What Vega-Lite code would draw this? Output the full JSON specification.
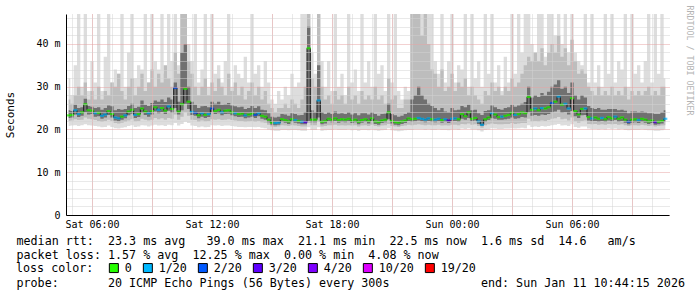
{
"$schema": "https://vega.github.io/schema/vega-lite/v6.json",
"width": 603,
"height": 201,
"autosize": {"type": "none"},
"padding": {"left": 66, "top": 14, "right": 28, "bottom": 82},
"background": "white",
"config": {"view": {"stroke": null}, "font": "DejaVu Sans Mono"},
"data": {"values": [
{"t":"2026-01-10T04:50","med":23.3,"loss":"0","lo1":20.8,"hi1":32,"lo2":22.0,"hi2":27,"lo3":22.7,"hi3":24.5},
{"t":"2026-01-10T05:00","med":23.4,"loss":"0","lo1":20.9,"hi1":28,"lo2":22.1,"hi2":26,"lo3":22.8,"hi3":24.3},
{"t":"2026-01-10T05:10","med":24.5,"loss":"1/20","lo1":21.0,"hi1":35,"lo2":22.4,"hi2":28,"lo3":23.5,"hi3":25.8},
{"t":"2026-01-10T05:20","med":23.6,"loss":"1/20","lo1":20.8,"hi1":47,"lo2":22.2,"hi2":30,"lo3":22.9,"hi3":25.0},
{"t":"2026-01-10T05:30","med":24.0,"loss":"0","lo1":21.0,"hi1":30,"lo2":22.3,"hi2":28,"lo3":23.2,"hi3":25.2},
{"t":"2026-01-10T05:40","med":25.9,"loss":"0","lo1":21.2,"hi1":47,"lo2":22.8,"hi2":31,"lo3":24.0,"hi3":27.2},
{"t":"2026-01-10T05:50","med":24.5,"loss":"0","lo1":21.0,"hi1":29,"lo2":22.5,"hi2":27,"lo3":23.5,"hi3":25.5},
{"t":"2026-01-10T06:00","med":24.4,"loss":"0","lo1":20.9,"hi1":36,"lo2":22.4,"hi2":29,"lo3":23.6,"hi3":25.3},
{"t":"2026-01-10T06:10","med":23.8,"loss":"1/20","lo1":20.8,"hi1":31,"lo2":22.2,"hi2":27,"lo3":23.0,"hi3":25.0},
{"t":"2026-01-10T06:20","med":23.9,"loss":"0","lo1":20.7,"hi1":47,"lo2":22.0,"hi2":30,"lo3":23.1,"hi3":25.2},
{"t":"2026-01-10T06:30","med":23.2,"loss":"1/20","lo1":20.5,"hi1":29,"lo2":21.8,"hi2":27,"lo3":22.5,"hi3":24.6},
{"t":"2026-01-10T06:40","med":23.5,"loss":"1/20","lo1":20.6,"hi1":37,"lo2":22.0,"hi2":29,"lo3":22.8,"hi3":25.0},
{"t":"2026-01-10T06:50","med":24.3,"loss":"0","lo1":20.9,"hi1":47,"lo2":22.3,"hi2":28,"lo3":23.4,"hi3":25.6},
{"t":"2026-01-10T07:00","med":23.6,"loss":"0","lo1":20.6,"hi1":31,"lo2":22.0,"hi2":31,"lo3":22.8,"hi3":25.4},
{"t":"2026-01-10T07:10","med":22.8,"loss":"1/20","lo1":20.3,"hi1":34,"lo2":21.5,"hi2":30,"lo3":22.1,"hi3":24.5},
{"t":"2026-01-10T07:20","med":22.6,"loss":"1/20","lo1":20.2,"hi1":33,"lo2":21.4,"hi2":33,"lo3":21.9,"hi3":24.8},
{"t":"2026-01-10T07:30","med":23.0,"loss":"0","lo1":20.4,"hi1":47,"lo2":21.6,"hi2":29,"lo3":22.3,"hi3":24.6},
{"t":"2026-01-10T07:40","med":23.3,"loss":"1/20","lo1":20.5,"hi1":30,"lo2":21.8,"hi2":27,"lo3":22.6,"hi3":24.8},
{"t":"2026-01-10T07:50","med":24.2,"loss":"0","lo1":20.8,"hi1":38,"lo2":22.1,"hi2":30,"lo3":23.3,"hi3":25.5},
{"t":"2026-01-10T08:00","med":24.6,"loss":"0","lo1":21.0,"hi1":47,"lo2":22.4,"hi2":32,"lo3":23.7,"hi3":26.0},
{"t":"2026-01-10T08:10","med":23.4,"loss":"1/20","lo1":20.6,"hi1":32,"lo2":21.9,"hi2":28,"lo3":22.7,"hi3":25.0},
{"t":"2026-01-10T08:20","med":23.6,"loss":"0","lo1":20.7,"hi1":35,"lo2":22.0,"hi2":30,"lo3":22.9,"hi3":25.3},
{"t":"2026-01-10T08:30","med":24.9,"loss":"0","lo1":21.0,"hi1":34,"lo2":22.5,"hi2":33,"lo3":23.9,"hi3":26.8},
{"t":"2026-01-10T08:40","med":24.2,"loss":"0","lo1":20.9,"hi1":47,"lo2":22.3,"hi2":29,"lo3":23.4,"hi3":25.8},
{"t":"2026-01-10T08:50","med":23.8,"loss":"1/20","lo1":20.7,"hi1":31,"lo2":22.1,"hi2":31,"lo3":23.0,"hi3":25.5},
{"t":"2026-01-10T09:00","med":24.3,"loss":"0","lo1":20.9,"hi1":47,"lo2":22.3,"hi2":34,"lo3":23.5,"hi3":26.2},
{"t":"2026-01-10T09:10","med":25.2,"loss":"0","lo1":21.1,"hi1":36,"lo2":22.7,"hi2":30,"lo3":24.2,"hi3":26.8},
{"t":"2026-01-10T09:20","med":24.6,"loss":"1/20","lo1":20.9,"hi1":34,"lo2":22.4,"hi2":33,"lo3":23.8,"hi3":26.5},
{"t":"2026-01-10T09:30","med":25.0,"loss":"0","lo1":21.0,"hi1":47,"lo2":22.6,"hi2":31,"lo3":24.1,"hi3":27.0},
{"t":"2026-01-10T09:40","med":24.4,"loss":"0","lo1":20.8,"hi1":33,"lo2":22.3,"hi2":35,"lo3":23.6,"hi3":26.4},
{"t":"2026-01-10T09:50","med":25.4,"loss":"1/20","lo1":21.1,"hi1":47,"lo2":22.7,"hi2":32,"lo3":24.4,"hi3":27.5},
{"t":"2026-01-10T10:00","med":24.8,"loss":"0","lo1":21.0,"hi1":36,"lo2":22.5,"hi2":30,"lo3":23.9,"hi3":27.0},
{"t":"2026-01-10T10:10","med":29.7,"loss":"2/20","lo1":21.5,"hi1":47,"lo2":23.5,"hi2":38,"lo3":25.0,"hi3":31.0},
{"t":"2026-01-10T10:20","med":24.2,"loss":"0","lo1":20.9,"hi1":35,"lo2":22.3,"hi2":33,"lo3":23.5,"hi3":26.5},
{"t":"2026-01-10T10:30","med":25.9,"loss":"0","lo1":21.3,"hi1":47,"lo2":23.0,"hi2":47,"lo3":24.5,"hi3":38},
{"t":"2026-01-10T10:40","med":29.5,"loss":"0","lo1":21.8,"hi1":47,"lo2":24.0,"hi2":47,"lo3":26.0,"hi3":40},
{"t":"2026-01-10T10:50","med":26.5,"loss":"0","lo1":21.5,"hi1":40,"lo2":23.2,"hi2":36,"lo3":24.8,"hi3":30},
{"t":"2026-01-10T11:00","med":24.1,"loss":"1/20","lo1":20.9,"hi1":36,"lo2":22.3,"hi2":33,"lo3":23.4,"hi3":26.5},
{"t":"2026-01-10T11:10","med":23.9,"loss":"2/20","lo1":20.8,"hi1":47,"lo2":22.2,"hi2":30,"lo3":23.2,"hi3":25.8},
{"t":"2026-01-10T11:20","med":23.3,"loss":"0","lo1":20.5,"hi1":31,"lo2":21.8,"hi2":28,"lo3":22.6,"hi3":25.0},
{"t":"2026-01-10T11:30","med":23.8,"loss":"1/20","lo1":20.7,"hi1":34,"lo2":22.1,"hi2":30,"lo3":23.0,"hi3":25.4},
{"t":"2026-01-10T11:40","med":23.4,"loss":"0","lo1":20.5,"hi1":47,"lo2":21.9,"hi2":32,"lo3":22.7,"hi3":25.5},
{"t":"2026-01-10T11:50","med":23.6,"loss":"1/20","lo1":20.6,"hi1":30,"lo2":22.0,"hi2":28,"lo3":22.9,"hi3":25.2},
{"t":"2026-01-10T12:00","med":24.9,"loss":"2/20","lo1":21.0,"hi1":47,"lo2":22.4,"hi2":31,"lo3":24.0,"hi3":26.5},
{"t":"2026-01-10T12:10","med":24.3,"loss":"0","lo1":20.9,"hi1":33,"lo2":22.3,"hi2":29,"lo3":23.6,"hi3":26.0},
{"t":"2026-01-10T12:20","med":24.6,"loss":"0","lo1":21.0,"hi1":35,"lo2":22.4,"hi2":32,"lo3":23.8,"hi3":26.5},
{"t":"2026-01-10T12:30","med":24.0,"loss":"1/20","lo1":20.8,"hi1":31,"lo2":22.2,"hi2":30,"lo3":23.3,"hi3":25.8},
{"t":"2026-01-10T12:40","med":24.4,"loss":"0","lo1":20.9,"hi1":36,"lo2":22.3,"hi2":28,"lo3":23.6,"hi3":25.9},
{"t":"2026-01-10T12:50","med":24.5,"loss":"0","lo1":20.9,"hi1":47,"lo2":22.4,"hi2":33,"lo3":23.7,"hi3":26.2},
{"t":"2026-01-10T13:00","med":24.0,"loss":"0","lo1":20.8,"hi1":30,"lo2":22.2,"hi2":29,"lo3":23.3,"hi3":25.6},
{"t":"2026-01-10T13:10","med":23.8,"loss":"1/20","lo1":20.7,"hi1":35,"lo2":22.1,"hi2":31,"lo3":23.1,"hi3":25.4},
{"t":"2026-01-10T13:20","med":23.6,"loss":"0","lo1":20.6,"hi1":33,"lo2":22.0,"hi2":28,"lo3":22.9,"hi3":25.2},
{"t":"2026-01-10T13:30","med":23.7,"loss":"0","lo1":20.6,"hi1":32,"lo2":22.0,"hi2":30,"lo3":23.0,"hi3":25.3},
{"t":"2026-01-10T13:40","med":23.3,"loss":"1/20","lo1":20.5,"hi1":37,"lo2":21.8,"hi2":27,"lo3":22.6,"hi3":24.8},
{"t":"2026-01-10T13:50","med":23.5,"loss":"0","lo1":20.6,"hi1":31,"lo2":21.9,"hi2":29,"lo3":22.8,"hi3":25.0},
{"t":"2026-01-10T14:00","med":23.7,"loss":"0","lo1":20.6,"hi1":47,"lo2":22.0,"hi2":31,"lo3":23.0,"hi3":25.5},
{"t":"2026-01-10T14:10","med":23.4,"loss":"2/20","lo1":20.5,"hi1":33,"lo2":21.8,"hi2":28,"lo3":22.7,"hi3":25.0},
{"t":"2026-01-10T14:20","med":23.8,"loss":"1/20","lo1":20.6,"hi1":35,"lo2":22.0,"hi2":30,"lo3":23.1,"hi3":25.4},
{"t":"2026-01-10T14:30","med":23.2,"loss":"0","lo1":20.4,"hi1":30,"lo2":21.7,"hi2":27,"lo3":22.5,"hi3":24.6},
{"t":"2026-01-10T14:40","med":23.0,"loss":"0","lo1":20.3,"hi1":36,"lo2":21.6,"hi2":29,"lo3":22.3,"hi3":24.5},
{"t":"2026-01-10T14:50","med":22.3,"loss":"0","lo1":20.0,"hi1":31,"lo2":21.1,"hi2":26,"lo3":21.7,"hi3":23.8},
{"t":"2026-01-10T15:00","med":21.6,"loss":"0","lo1":19.8,"hi1":27,"lo2":20.7,"hi2":25,"lo3":21.1,"hi3":23.0},
{"t":"2026-01-10T15:10","med":21.5,"loss":"1/20","lo1":19.7,"hi1":26,"lo2":20.6,"hi2":24,"lo3":21.0,"hi3":22.8},
{"t":"2026-01-10T15:20","med":21.6,"loss":"1/20","lo1":19.7,"hi1":29,"lo2":20.7,"hi2":25,"lo3":21.1,"hi3":23.0},
{"t":"2026-01-10T15:30","med":22.4,"loss":"0","lo1":19.9,"hi1":27,"lo2":21.0,"hi2":25,"lo3":21.8,"hi3":23.6},
{"t":"2026-01-10T15:40","med":22.2,"loss":"0","lo1":19.9,"hi1":30,"lo2":20.9,"hi2":26,"lo3":21.6,"hi3":23.5},
{"t":"2026-01-10T15:50","med":21.9,"loss":"0","lo1":19.8,"hi1":28,"lo2":20.8,"hi2":25,"lo3":21.3,"hi3":23.2},
{"t":"2026-01-10T16:00","med":22.4,"loss":"0","lo1":19.9,"hi1":33,"lo2":21.0,"hi2":27,"lo3":21.8,"hi3":23.8},
{"t":"2026-01-10T16:10","med":22.2,"loss":"1/20","lo1":19.9,"hi1":30,"lo2":20.9,"hi2":26,"lo3":21.6,"hi3":23.6},
{"t":"2026-01-10T16:20","med":22.0,"loss":"0","lo1":19.8,"hi1":31,"lo2":20.8,"hi2":25,"lo3":21.4,"hi3":23.3},
{"t":"2026-01-10T16:30","med":21.8,"loss":"1/20","lo1":19.7,"hi1":47,"lo2":20.7,"hi2":27,"lo3":21.2,"hi3":23.4},
{"t":"2026-01-10T16:40","med":21.7,"loss":"3/20","lo1":19.7,"hi1":47,"lo2":20.7,"hi2":30,"lo3":21.2,"hi3":24.0},
{"t":"2026-01-10T16:50","med":39.0,"loss":"0","lo1":20.5,"hi1":47,"lo2":21.5,"hi2":47,"lo3":22.0,"hi3":44},
{"t":"2026-01-10T17:00","med":22.3,"loss":"0","lo1":19.9,"hi1":38,"lo2":21.0,"hi2":32,"lo3":21.7,"hi3":24.5},
{"t":"2026-01-10T17:10","med":22.3,"loss":"0","lo1":19.9,"hi1":33,"lo2":21.0,"hi2":30,"lo3":21.7,"hi3":24.0},
{"t":"2026-01-10T17:20","med":26.8,"loss":"1/20","lo1":20.5,"hi1":47,"lo2":21.8,"hi2":47,"lo3":22.8,"hi3":35},
{"t":"2026-01-10T17:30","med":21.8,"loss":"0","lo1":19.7,"hi1":36,"lo2":20.7,"hi2":30,"lo3":21.2,"hi3":24.0},
{"t":"2026-01-10T17:40","med":22.0,"loss":"0","lo1":19.8,"hi1":30,"lo2":20.8,"hi2":27,"lo3":21.4,"hi3":23.6},
{"t":"2026-01-10T17:50","med":22.5,"loss":"0","lo1":19.9,"hi1":36,"lo2":21.0,"hi2":28,"lo3":21.9,"hi3":24.0},
{"t":"2026-01-10T18:00","med":22.3,"loss":"0","lo1":19.9,"hi1":29,"lo2":21.0,"hi2":26,"lo3":21.7,"hi3":23.6},
{"t":"2026-01-10T18:10","med":22.6,"loss":"0","lo1":20.0,"hi1":47,"lo2":21.1,"hi2":29,"lo3":22.0,"hi3":24.2},
{"t":"2026-01-10T18:20","med":22.2,"loss":"0","lo1":19.9,"hi1":30,"lo2":20.9,"hi2":27,"lo3":21.6,"hi3":23.7},
{"t":"2026-01-10T18:30","med":22.4,"loss":"0","lo1":19.9,"hi1":33,"lo2":21.0,"hi2":28,"lo3":21.8,"hi3":23.8},
{"t":"2026-01-10T18:40","med":22.3,"loss":"0","lo1":19.9,"hi1":28,"lo2":20.9,"hi2":26,"lo3":21.7,"hi3":23.6},
{"t":"2026-01-10T18:50","med":22.5,"loss":"0","lo1":20.0,"hi1":47,"lo2":21.0,"hi2":30,"lo3":21.9,"hi3":24.0},
{"t":"2026-01-10T19:00","med":22.1,"loss":"0","lo1":19.8,"hi1":31,"lo2":20.9,"hi2":27,"lo3":21.5,"hi3":23.5},
{"t":"2026-01-10T19:10","med":22.3,"loss":"0","lo1":19.9,"hi1":34,"lo2":21.0,"hi2":28,"lo3":21.7,"hi3":23.8},
{"t":"2026-01-10T19:20","med":21.8,"loss":"0","lo1":19.7,"hi1":29,"lo2":20.7,"hi2":26,"lo3":21.2,"hi3":23.3},
{"t":"2026-01-10T19:30","med":22.2,"loss":"0","lo1":19.9,"hi1":47,"lo2":20.9,"hi2":29,"lo3":21.6,"hi3":23.8},
{"t":"2026-01-10T19:40","med":22.4,"loss":"0","lo1":19.9,"hi1":31,"lo2":21.0,"hi2":27,"lo3":21.8,"hi3":23.8},
{"t":"2026-01-10T19:50","med":22.0,"loss":"0","lo1":19.8,"hi1":36,"lo2":20.8,"hi2":28,"lo3":21.4,"hi3":23.5},
{"t":"2026-01-10T20:00","med":22.6,"loss":"0","lo1":20.0,"hi1":30,"lo2":21.1,"hi2":27,"lo3":22.0,"hi3":24.0},
{"t":"2026-01-10T20:10","med":21.9,"loss":"0","lo1":19.8,"hi1":47,"lo2":20.8,"hi2":30,"lo3":21.3,"hi3":23.6},
{"t":"2026-01-10T20:20","med":21.7,"loss":"0","lo1":19.7,"hi1":33,"lo2":20.7,"hi2":27,"lo3":21.1,"hi3":23.2},
{"t":"2026-01-10T20:30","med":22.1,"loss":"0","lo1":19.8,"hi1":35,"lo2":20.9,"hi2":28,"lo3":21.5,"hi3":23.6},
{"t":"2026-01-10T20:40","med":22.3,"loss":"0","lo1":19.9,"hi1":29,"lo2":21.0,"hi2":26,"lo3":21.7,"hi3":23.7},
{"t":"2026-01-10T20:50","med":24.0,"loss":"0","lo1":20.3,"hi1":47,"lo2":21.3,"hi2":32,"lo3":22.4,"hi3":26.0},
{"t":"2026-01-10T21:00","med":22.0,"loss":"0","lo1":19.8,"hi1":31,"lo2":20.8,"hi2":27,"lo3":21.4,"hi3":23.6},
{"t":"2026-01-10T21:10","med":21.7,"loss":"0","lo1":19.7,"hi1":47,"lo2":20.7,"hi2":28,"lo3":21.1,"hi3":23.3},
{"t":"2026-01-10T21:20","med":21.6,"loss":"0","lo1":19.6,"hi1":29,"lo2":20.6,"hi2":25,"lo3":21.0,"hi3":23.0},
{"t":"2026-01-10T21:30","med":21.9,"loss":"0","lo1":19.7,"hi1":27,"lo2":20.8,"hi2":25,"lo3":21.3,"hi3":23.2},
{"t":"2026-01-10T21:40","med":22.1,"loss":"0","lo1":19.8,"hi1":30,"lo2":20.9,"hi2":27,"lo3":21.5,"hi3":23.6},
{"t":"2026-01-10T21:50","med":22.6,"loss":"0","lo1":19.9,"hi1":29,"lo2":21.1,"hi2":27,"lo3":22.0,"hi3":24.0},
{"t":"2026-01-10T22:00","med":22.4,"loss":"0","lo1":19.9,"hi1":47,"lo2":21.0,"hi2":47,"lo3":21.8,"hi3":27},
{"t":"2026-01-10T22:10","med":22.5,"loss":"0","lo1":20.0,"hi1":47,"lo2":21.1,"hi2":47,"lo3":21.9,"hi3":28},
{"t":"2026-01-10T22:20","med":22.7,"loss":"1/20","lo1":20.0,"hi1":47,"lo2":21.2,"hi2":47,"lo3":22.1,"hi3":30},
{"t":"2026-01-10T22:30","med":22.5,"loss":"1/20","lo1":20.0,"hi1":47,"lo2":21.1,"hi2":42,"lo3":21.9,"hi3":28},
{"t":"2026-01-10T22:40","med":22.3,"loss":"1/20","lo1":19.9,"hi1":47,"lo2":21.0,"hi2":47,"lo3":21.7,"hi3":27},
{"t":"2026-01-10T22:50","med":22.6,"loss":"1/20","lo1":20.0,"hi1":47,"lo2":21.1,"hi2":40,"lo3":22.0,"hi3":26},
{"t":"2026-01-10T23:00","med":22.4,"loss":"0","lo1":19.9,"hi1":47,"lo2":21.0,"hi2":34,"lo3":21.8,"hi3":25.5},
{"t":"2026-01-10T23:10","med":22.3,"loss":"1/20","lo1":19.9,"hi1":36,"lo2":21.0,"hi2":33,"lo3":21.7,"hi3":25.0},
{"t":"2026-01-10T23:20","med":22.5,"loss":"1/20","lo1":20.0,"hi1":33,"lo2":21.1,"hi2":30,"lo3":21.9,"hi3":24.5},
{"t":"2026-01-10T23:30","med":22.2,"loss":"0","lo1":19.9,"hi1":47,"lo2":20.9,"hi2":34,"lo3":21.6,"hi3":25.0},
{"t":"2026-01-10T23:40","med":22.4,"loss":"1/20","lo1":19.9,"hi1":31,"lo2":21.0,"hi2":29,"lo3":21.8,"hi3":24.2},
{"t":"2026-01-10T23:50","med":22.1,"loss":"3/20","lo1":19.8,"hi1":36,"lo2":20.9,"hi2":30,"lo3":21.5,"hi3":24.0},
{"t":"2026-01-11T00:00","med":22.5,"loss":"1/20","lo1":20.0,"hi1":47,"lo2":21.1,"hi2":33,"lo3":21.9,"hi3":25.0},
{"t":"2026-01-11T00:10","med":22.6,"loss":"1/20","lo1":20.0,"hi1":31,"lo2":21.1,"hi2":29,"lo3":22.0,"hi3":24.5},
{"t":"2026-01-11T00:20","med":22.4,"loss":"0","lo1":19.9,"hi1":35,"lo2":21.0,"hi2":31,"lo3":21.8,"hi3":24.6},
{"t":"2026-01-11T00:30","med":23.6,"loss":"0","lo1":20.2,"hi1":34,"lo2":21.3,"hi2":30,"lo3":22.5,"hi3":25.5},
{"t":"2026-01-11T00:40","med":23.1,"loss":"0","lo1":20.1,"hi1":47,"lo2":21.2,"hi2":32,"lo3":22.3,"hi3":25.2},
{"t":"2026-01-11T00:50","med":24.0,"loss":"0","lo1":20.3,"hi1":30,"lo2":21.4,"hi2":28,"lo3":22.7,"hi3":25.8},
{"t":"2026-01-11T01:00","med":22.5,"loss":"0","lo1":20.0,"hi1":47,"lo2":21.1,"hi2":30,"lo3":21.9,"hi3":24.5},
{"t":"2026-01-11T01:10","med":22.7,"loss":"0","lo1":20.0,"hi1":32,"lo2":21.2,"hi2":28,"lo3":22.1,"hi3":24.6},
{"t":"2026-01-11T01:20","med":21.9,"loss":"1/20","lo1":19.8,"hi1":36,"lo2":20.8,"hi2":27,"lo3":21.3,"hi3":23.8},
{"t":"2026-01-11T01:30","med":21.1,"loss":"1/20","lo1":19.5,"hi1":30,"lo2":20.4,"hi2":26,"lo3":20.8,"hi3":23.4},
{"t":"2026-01-11T01:40","med":22.4,"loss":"0","lo1":19.9,"hi1":47,"lo2":21.0,"hi2":29,"lo3":21.8,"hi3":24.3},
{"t":"2026-01-11T01:50","med":22.8,"loss":"0","lo1":20.0,"hi1":33,"lo2":21.2,"hi2":28,"lo3":22.2,"hi3":24.5},
{"t":"2026-01-11T02:00","med":23.8,"loss":"1/20","lo1":20.3,"hi1":47,"lo2":21.4,"hi2":31,"lo3":22.6,"hi3":25.6},
{"t":"2026-01-11T02:10","med":23.5,"loss":"0","lo1":20.2,"hi1":31,"lo2":21.3,"hi2":29,"lo3":22.5,"hi3":25.2},
{"t":"2026-01-11T02:20","med":22.9,"loss":"0","lo1":20.1,"hi1":35,"lo2":21.2,"hi2":30,"lo3":22.3,"hi3":24.8},
{"t":"2026-01-11T02:30","med":23.0,"loss":"1/20","lo1":20.1,"hi1":29,"lo2":21.2,"hi2":28,"lo3":22.3,"hi3":24.6},
{"t":"2026-01-11T02:40","med":23.2,"loss":"0","lo1":20.2,"hi1":37,"lo2":21.3,"hi2":30,"lo3":22.4,"hi3":25.0},
{"t":"2026-01-11T02:50","med":23.4,"loss":"0","lo1":20.2,"hi1":31,"lo2":21.3,"hi2":29,"lo3":22.5,"hi3":25.2},
{"t":"2026-01-11T03:00","med":23.9,"loss":"0","lo1":20.3,"hi1":47,"lo2":21.5,"hi2":32,"lo3":22.8,"hi3":25.8},
{"t":"2026-01-11T03:10","med":23.4,"loss":"1/20","lo1":20.2,"hi1":33,"lo2":21.3,"hi2":30,"lo3":22.5,"hi3":25.3},
{"t":"2026-01-11T03:20","med":23.6,"loss":"0","lo1":20.3,"hi1":47,"lo2":21.4,"hi2":31,"lo3":22.6,"hi3":25.6},
{"t":"2026-01-11T03:30","med":24.0,"loss":"0","lo1":20.4,"hi1":38,"lo2":21.5,"hi2":33,"lo3":22.9,"hi3":26.0},
{"t":"2026-01-11T03:40","med":23.8,"loss":"0","lo1":20.3,"hi1":47,"lo2":21.5,"hi2":35,"lo3":22.8,"hi3":26.4},
{"t":"2026-01-11T03:50","med":27.6,"loss":"0","lo1":21.0,"hi1":47,"lo2":22.5,"hi2":37,"lo3":24.0,"hi3":30.0},
{"t":"2026-01-11T04:00","med":24.6,"loss":"0","lo1":20.6,"hi1":40,"lo2":21.9,"hi2":36,"lo3":23.2,"hi3":27.5},
{"t":"2026-01-11T04:10","med":24.9,"loss":"1/20","lo1":20.7,"hi1":38,"lo2":22.0,"hi2":38,"lo3":23.4,"hi3":28.0},
{"t":"2026-01-11T04:20","med":24.5,"loss":"0","lo1":20.6,"hi1":47,"lo2":21.9,"hi2":36,"lo3":23.2,"hi3":27.6},
{"t":"2026-01-11T04:30","med":25.0,"loss":"1/20","lo1":20.8,"hi1":47,"lo2":22.1,"hi2":39,"lo3":23.5,"hi3":28.5},
{"t":"2026-01-11T04:40","med":24.9,"loss":"0","lo1":20.7,"hi1":37,"lo2":22.0,"hi2":35,"lo3":23.4,"hi3":28.0},
{"t":"2026-01-11T04:50","med":25.2,"loss":"0","lo1":20.8,"hi1":47,"lo2":22.2,"hi2":38,"lo3":23.6,"hi3":28.8},
{"t":"2026-01-11T05:00","med":26.2,"loss":"2/20","lo1":21.0,"hi1":47,"lo2":22.5,"hi2":40,"lo3":24.0,"hi3":30.0},
{"t":"2026-01-11T05:10","med":26.5,"loss":"0","lo1":21.1,"hi1":42,"lo2":22.6,"hi2":38,"lo3":24.2,"hi3":30.5},
{"t":"2026-01-11T05:20","med":27.7,"loss":"1/20","lo1":21.3,"hi1":47,"lo2":22.9,"hi2":42,"lo3":24.6,"hi3":31.5},
{"t":"2026-01-11T05:30","med":25.8,"loss":"0","lo1":20.9,"hi1":40,"lo2":22.4,"hi2":37,"lo3":23.9,"hi3":29.5},
{"t":"2026-01-11T05:40","med":26.0,"loss":"1/20","lo1":21.0,"hi1":47,"lo2":22.5,"hi2":39,"lo3":24.0,"hi3":30.0},
{"t":"2026-01-11T05:50","med":24.9,"loss":"1/20","lo1":20.8,"hi1":38,"lo2":22.1,"hi2":35,"lo3":23.5,"hi3":28.5},
{"t":"2026-01-11T06:00","med":27.3,"loss":"0","lo1":21.2,"hi1":47,"lo2":22.8,"hi2":41,"lo3":24.3,"hi3":31.0},
{"t":"2026-01-11T06:10","med":24.3,"loss":"0","lo1":20.6,"hi1":38,"lo2":21.9,"hi2":36,"lo3":23.1,"hi3":28.0},
{"t":"2026-01-11T06:20","med":23.5,"loss":"0","lo1":20.4,"hi1":36,"lo2":21.6,"hi2":33,"lo3":22.7,"hi3":27.0},
{"t":"2026-01-11T06:30","med":24.8,"loss":"0","lo1":20.7,"hi1":35,"lo2":22.0,"hi2":34,"lo3":23.3,"hi3":28.0},
{"t":"2026-01-11T06:40","med":24.9,"loss":"1/20","lo1":20.7,"hi1":47,"lo2":22.1,"hi2":33,"lo3":23.4,"hi3":27.5},
{"t":"2026-01-11T06:50","med":22.9,"loss":"0","lo1":20.2,"hi1":31,"lo2":21.3,"hi2":30,"lo3":22.1,"hi3":25.5},
{"t":"2026-01-11T07:00","med":22.6,"loss":"1/20","lo1":20.1,"hi1":47,"lo2":21.2,"hi2":29,"lo3":21.9,"hi3":25.0},
{"t":"2026-01-11T07:10","med":22.8,"loss":"0","lo1":20.1,"hi1":31,"lo2":21.3,"hi2":28,"lo3":22.0,"hi3":24.8},
{"t":"2026-01-11T07:20","med":22.5,"loss":"0","lo1":20.0,"hi1":35,"lo2":21.1,"hi2":30,"lo3":21.8,"hi3":25.0},
{"t":"2026-01-11T07:30","med":22.7,"loss":"1/20","lo1":20.1,"hi1":30,"lo2":21.2,"hi2":28,"lo3":22.0,"hi3":24.6},
{"t":"2026-01-11T07:40","med":22.4,"loss":"0","lo1":20.0,"hi1":47,"lo2":21.1,"hi2":29,"lo3":21.8,"hi3":24.6},
{"t":"2026-01-11T07:50","med":22.9,"loss":"0","lo1":20.2,"hi1":33,"lo2":21.3,"hi2":28,"lo3":22.1,"hi3":24.8},
{"t":"2026-01-11T08:00","med":22.6,"loss":"0","lo1":20.1,"hi1":47,"lo2":21.2,"hi2":30,"lo3":21.9,"hi3":24.8},
{"t":"2026-01-11T08:10","med":23.0,"loss":"1/20","lo1":20.2,"hi1":31,"lo2":21.3,"hi2":28,"lo3":22.2,"hi3":24.8},
{"t":"2026-01-11T08:20","med":22.5,"loss":"0","lo1":20.0,"hi1":36,"lo2":21.1,"hi2":29,"lo3":21.8,"hi3":24.5},
{"t":"2026-01-11T08:30","med":22.8,"loss":"0","lo1":20.1,"hi1":34,"lo2":21.2,"hi2":28,"lo3":22.0,"hi3":24.6},
{"t":"2026-01-11T08:40","med":22.3,"loss":"0","lo1":19.9,"hi1":47,"lo2":21.0,"hi2":30,"lo3":21.6,"hi3":24.4},
{"t":"2026-01-11T08:50","med":21.8,"loss":"2/20","lo1":19.8,"hi1":30,"lo2":20.8,"hi2":27,"lo3":21.2,"hi3":23.8},
{"t":"2026-01-11T09:00","med":22.3,"loss":"0","lo1":19.9,"hi1":47,"lo2":21.0,"hi2":29,"lo3":21.6,"hi3":24.2},
{"t":"2026-01-11T09:10","med":22.4,"loss":"0","lo1":19.9,"hi1":33,"lo2":21.0,"hi2":28,"lo3":21.7,"hi3":24.2},
{"t":"2026-01-11T09:20","med":22.2,"loss":"1/20","lo1":19.9,"hi1":35,"lo2":20.9,"hi2":29,"lo3":21.5,"hi3":24.0},
{"t":"2026-01-11T09:30","med":22.5,"loss":"0","lo1":20.0,"hi1":31,"lo2":21.1,"hi2":28,"lo3":21.8,"hi3":24.2},
{"t":"2026-01-11T09:40","med":22.3,"loss":"0","lo1":19.9,"hi1":36,"lo2":21.0,"hi2":29,"lo3":21.6,"hi3":24.0},
{"t":"2026-01-11T09:50","med":21.9,"loss":"0","lo1":19.8,"hi1":47,"lo2":20.8,"hi2":30,"lo3":21.3,"hi3":23.8},
{"t":"2026-01-11T10:00","med":22.1,"loss":"0","lo1":19.8,"hi1":31,"lo2":20.9,"hi2":28,"lo3":21.5,"hi3":23.8},
{"t":"2026-01-11T10:10","med":21.7,"loss":"3/20","lo1":19.7,"hi1":47,"lo2":20.7,"hi2":29,"lo3":21.1,"hi3":23.6},
{"t":"2026-01-11T10:20","med":21.8,"loss":"0","lo1":19.7,"hi1":33,"lo2":20.8,"hi2":28,"lo3":21.2,"hi3":23.6},
{"t":"2026-01-11T10:30","med":22.0,"loss":"0","lo1":19.8,"hi1":47,"lo2":20.9,"hi2":30,"lo3":21.4,"hi3":24.0},
{"t":"2026-01-11T10:40","med":22.5,"loss":"1/20","lo1":20.0,"hi1":32,"lo2":21.0,"hi2":30,"lo3":21.8,"hi3":24.5}
]},
"layer": [
{"mark": {"type": "area", "interpolate": "step", "color": "#dddddd"},
 "encoding": {
  "x": {"field": "t", "type": "temporal",
   "scale": {"domain": [{"year": 2026, "month": 1, "date": 10, "hours": 4, "minutes": 42}, {"year": 2026, "month": 1, "date": 11, "hours": 10, "minutes": 51}]},
   "axis": {"orient": "bottom", "zindex": 1, "labels": false, "ticks": false, "domain": false,
    "values": [
     {"year":2026,"month":1,"date":10,"hours":5},{"year":2026,"month":1,"date":10,"hours":6},{"year":2026,"month":1,"date":10,"hours":7},
     {"year":2026,"month":1,"date":10,"hours":8},{"year":2026,"month":1,"date":10,"hours":9},{"year":2026,"month":1,"date":10,"hours":10},
     {"year":2026,"month":1,"date":10,"hours":11},{"year":2026,"month":1,"date":10,"hours":12},{"year":2026,"month":1,"date":10,"hours":13},
     {"year":2026,"month":1,"date":10,"hours":14},{"year":2026,"month":1,"date":10,"hours":15},{"year":2026,"month":1,"date":10,"hours":16},
     {"year":2026,"month":1,"date":10,"hours":17},{"year":2026,"month":1,"date":10,"hours":18},{"year":2026,"month":1,"date":10,"hours":19},
     {"year":2026,"month":1,"date":10,"hours":20},{"year":2026,"month":1,"date":10,"hours":21},{"year":2026,"month":1,"date":10,"hours":22},
     {"year":2026,"month":1,"date":10,"hours":23},{"year":2026,"month":1,"date":11,"hours":0},{"year":2026,"month":1,"date":11,"hours":1},
     {"year":2026,"month":1,"date":11,"hours":2},{"year":2026,"month":1,"date":11,"hours":3},{"year":2026,"month":1,"date":11,"hours":4},
     {"year":2026,"month":1,"date":11,"hours":5},{"year":2026,"month":1,"date":11,"hours":6},{"year":2026,"month":1,"date":11,"hours":7},
     {"year":2026,"month":1,"date":11,"hours":8},{"year":2026,"month":1,"date":11,"hours":9},{"year":2026,"month":1,"date":11,"hours":10}],
    "grid": true, "gridDash": [1, 1], "gridWidth": 1, "gridColor": "#d2d2d2",
    "title": "probe:\u00a0\u00a0\u00a0\u00a0\u00a0\u00a0\u00a020\u00a0ICMP\u00a0Echo\u00a0Pings\u00a0(56\u00a0Bytes)\u00a0every\u00a0300s\u00a0\u00a0\u00a0\u00a0\u00a0\u00a0\u00a0\u00a0\u00a0\u00a0\u00a0\u00a0\u00a0end:\u00a0Sun\u00a0Jan\u00a011\u00a010:44:15\u00a02026",
    "titleX": -50, "titleY": 62, "titleAlign": "left", "titleBaseline": "top", "titleAngle": 0,
    "titleFont": "DejaVu Sans Mono", "titleFontSize": 11.7, "titleFontWeight": "normal", "titleColor": "#000000", "titleLimit": 1000}},
  "y": {"field": "hi1", "type": "quantitative",
   "scale": {"domain": [0, 47], "nice": false, "zero": true},
   "axis": {"orient": "left", "zindex": 1, "labels": false, "ticks": false, "domain": false, "title": null,
    "values": [2,4,6,8,12,14,16,18,22,24,26,28,32,34,36,38,42,44,46],
    "grid": true, "gridDash": [1, 1], "gridWidth": 1, "gridColor": "#d2d2d2"}},
  "y2": {"field": "lo1"}}},
{"mark": {"type": "area", "interpolate": "step", "color": "#bdbdbd"},
 "encoding": {
  "x": {"field": "t", "type": "temporal",
   "axis": {"orient": "bottom", "zindex": 1,
    "values": [
     {"year":2026,"month":1,"date":10,"hours":6},{"year":2026,"month":1,"date":10,"hours":9},{"year":2026,"month":1,"date":10,"hours":12},
     {"year":2026,"month":1,"date":10,"hours":15},{"year":2026,"month":1,"date":10,"hours":18},{"year":2026,"month":1,"date":10,"hours":21},
     {"year":2026,"month":1,"date":11,"hours":0},{"year":2026,"month":1,"date":11,"hours":3},{"year":2026,"month":1,"date":11,"hours":6},
     {"year":2026,"month":1,"date":11,"hours":9}],
    "labelExpr": "hours(datum.value) % 6 == 0 ? timeFormat(datum.value, '%a %H:%M') : ''",
    "labelOverlap": false, "labelFlush": false,
    "labelFont": "DejaVu Sans Mono", "labelFontSize": 10, "labelColor": "#000000", "labelPadding": 4,
    "ticks": false, "domainColor": "#000000", "domainWidth": 1,
    "grid": true, "gridDash": [1, 1], "gridWidth": 1, "gridColor": "#e6a3a3",
    "title": ["median\u00a0rtt:\u00a0\u00a023.3\u00a0ms\u00a0avg\u00a0\u00a0\u00a039.0\u00a0ms\u00a0max\u00a0\u00a021.1\u00a0ms\u00a0min\u00a0\u00a022.5\u00a0ms\u00a0now\u00a0\u00a01.6\u00a0ms\u00a0sd\u00a0\u00a014.6\u00a0\u00a0\u00a0am/s",
              "packet\u00a0loss:\u00a01.57\u00a0%\u00a0avg\u00a0\u00a012.25\u00a0%\u00a0max\u00a0\u00a00.00\u00a0%\u00a0min\u00a0\u00a04.08\u00a0%\u00a0now"],
    "titleX": -50, "titleY": 20, "titleAlign": "left", "titleBaseline": "top", "titleAngle": 0,
    "titleFont": "DejaVu Sans Mono", "titleFontSize": 11.7, "titleFontWeight": "normal", "titleColor": "#000000",
    "titleLineHeight": 14, "titleLimit": 1000}},
  "y": {"field": "hi2", "type": "quantitative",
   "axis": {"orient": "left", "zindex": 1, "values": [0, 10, 20, 30, 40],
    "labelExpr": "datum.value == 0 ? '0' : datum.value + ' m'",
    "labelFont": "DejaVu Sans Mono", "labelFontSize": 10, "labelColor": "#000000", "labelPadding": 6,
    "ticks": false, "domainColor": "#000000", "domainWidth": 1,
    "grid": true, "gridDash": [1, 1], "gridWidth": 1, "gridColor": "#e6a3a3",
    "title": "Seconds", "titleX": -56, "titleY": 100.5, "titleAngle": 270, "titleAlign": "center", "titleBaseline": "middle",
    "titleFont": "DejaVu Sans Mono", "titleFontSize": 11, "titleFontWeight": "normal", "titleColor": "#000000"}},
  "y2": {"field": "lo2"}}},
{"mark": {"type": "area", "interpolate": "step", "color": "#707070"},
 "encoding": {
  "x": {"field": "t", "type": "temporal", "axis": null},
  "y": {"field": "hi3", "type": "quantitative",
   "axis": {"orient": "right", "labels": false, "ticks": false, "domain": false, "grid": false,
    "title": "RRDTOOL / TOBI OETIKER", "titleAngle": 90, "titleX": 19, "titleY": -9, "titleAlign": "left", "titleBaseline": "middle",
    "titleFont": "DejaVu Sans Mono", "titleFontSize": 8.3, "titleFontWeight": "normal", "titleColor": "#b4b4b4"}},
  "y2": {"field": "lo3"}}},
{"mark": {"type": "line", "interpolate": "step", "color": "#1c1c1c", "strokeWidth": 1},
 "encoding": {
  "x": {"field": "t", "type": "temporal", "axis": null},
  "y": {"field": "med", "type": "quantitative", "axis": null}}},
{"mark": {"type": "tick", "orient": "horizontal", "size": 4, "thickness": 2.2},
 "encoding": {
  "x": {"field": "t", "type": "temporal", "axis": null},
  "y": {"field": "med", "type": "quantitative", "axis": null},
  "color": {"field": "loss", "type": "nominal",
   "scale": {"domain": ["0", "1/20", "2/20", "3/20", "4/20", "10/20", "19/20"],
             "range": ["#26ff00", "#00b8ff", "#0059ff", "#5e00ff", "#7e00ff", "#dd00ff", "#ff0000"]},
   "legend": {"orient": "none", "legendX": -50, "legendY": 248, "direction": "horizontal",
    "title": "loss color:", "titleOrient": "left", "titleFont": "DejaVu Sans Mono", "titleFontSize": 11.7, "titleFontWeight": "normal",
    "titleColor": "#000000", "titlePadding": 14,
    "labelFont": "DejaVu Sans Mono", "labelFontSize": 11.7, "labelColor": "#000000", "labelOffset": 5,
    "symbolType": "square", "symbolSize": 81, "symbolStrokeColor": "#000000", "symbolStrokeWidth": 1, "symbolOpacity": 1,
    "columnPadding": 9}}}}
],
"resolve": {"axis": {"x": "independent", "y": "independent"}}
}
